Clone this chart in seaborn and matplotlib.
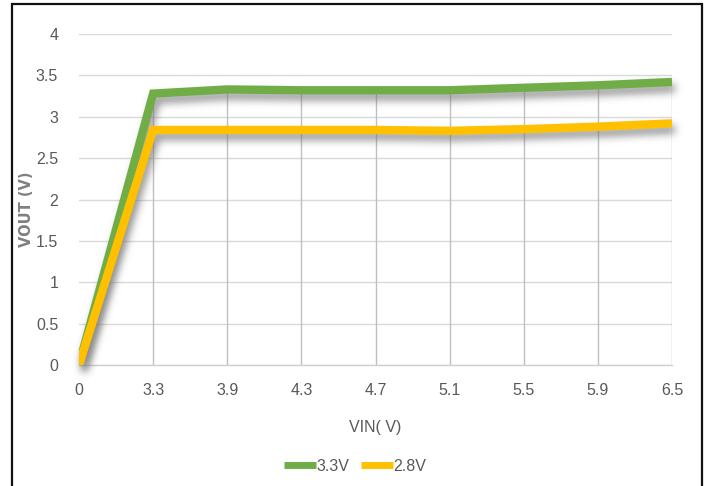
import matplotlib
matplotlib.use("Agg")
import numpy as np
import matplotlib.pyplot as plt
from matplotlib import font_manager
from matplotlib.patches import Rectangle
import pandas as pd
import seaborn as sns

# Input voltage steps (category labels on the x axis)
vin_labels = ["0", "3.3", "3.9", "4.3", "4.7", "5.1", "5.5", "5.9", "6.5"]
# Regulator output voltage for each variant
vout_33 = [0.0, 3.28, 3.33, 3.32, 3.32, 3.32, 3.35, 3.38, 3.42]
vout_28 = [0.0, 2.84, 2.84, 2.84, 2.84, 2.83, 2.85, 2.88, 2.92]
series_names = ["3.3V", "2.8V"]
series_colors = ["#70ad47", "#ffc000"]
y_ticks = [0, 0.5, 1, 1.5, 2, 2.5, 3, 3.5, 4]

sns.set_theme(style="white")
available = {f.name for f in font_manager.fontManager.ttflist}
base_font = "Liberation Sans Narrow" if "Liberation Sans Narrow" in available else "Liberation Sans"
plt.rcParams["font.family"] = [base_font, "DejaVu Sans"]


def blurred_shadow(im, dpi):
    """agg filter: soft grey shadow shifted down-right of the rendered line."""
    pad = 22
    src = np.pad(im, [(pad, pad), (pad, pad), (0, 0)], "constant")
    alpha = src[..., 3]
    r = 10
    sigma = 4.0
    k = np.exp(-0.5 * (np.arange(-r, r + 1) / sigma) ** 2)
    k /= k.sum()
    tmp = np.zeros_like(alpha)
    for i, w in enumerate(k):
        tmp += w * np.roll(alpha, i - r, axis=0)
    out_a = np.zeros_like(alpha)
    for i, w in enumerate(k):
        out_a += w * np.roll(tmp, i - r, axis=1)
    out_a = np.roll(np.roll(out_a, 6, axis=0), 3, axis=1)
    out = np.zeros_like(src)
    out[..., :3] = 0.45
    out[..., 3] = np.clip(out_a * 0.75, 0, 1)
    return out, -pad, -pad


df = pd.DataFrame({
    "VIN": vin_labels * 2,
    "VOUT": vout_33 + vout_28,
    "series": [series_names[0]] * len(vin_labels) + [series_names[1]] * len(vin_labels),
})

fig = plt.figure(figsize=(7.1, 4.86), dpi=100)
ax = fig.add_axes([79 / 710, 1 - 365 / 486, (672 - 79) / 710, (365 - 34) / 486])

sns.lineplot(data=df, x="VIN", y="VOUT", hue="series", palette=series_colors,
             hue_order=series_names, sort=False, linewidth=6, ax=ax,
             legend=True, zorder=4)

# blurred drop shadow copies beneath each series line
for line in list(ax.lines):
    line.set_solid_joinstyle("miter")
    line.set_solid_capstyle("butt")
    sh, = ax.plot(line.get_xdata(), line.get_ydata(), color="black",
                  linewidth=6, zorder=3, solid_joinstyle="miter",
                  solid_capstyle="butt")
    sh.set_agg_filter(blurred_shadow)
    sh.set_rasterized(True)

# drop lines from the highest series down to the axis
xpos = list(range(len(vin_labels)))
ax.vlines(xpos, 0, vout_33, colors="#bfbfbf", linewidth=1.0, zorder=1)

ax.set_xlim(0, len(vin_labels) - 1)
ax.set_ylim(0, 4)
ax.set_yticks(y_ticks)
ax.set_yticklabels([f"{t:g}" for t in y_ticks])
ax.grid(axis="y", color="#d9d9d9", linewidth=1.0, zorder=0)
ax.grid(axis="x", visible=False)
for s in ["top", "right", "left"]:
    ax.spines[s].set_visible(False)
ax.spines["bottom"].set_color("#d0d0d0")
ax.spines["bottom"].set_linewidth(1.0)

ax.tick_params(axis="both", length=0, labelsize=11.5, labelcolor="#595959")
ax.tick_params(axis="x", pad=13)
ax.tick_params(axis="y", pad=15)

ax.set_xlabel("VIN( V)", fontsize=11.5, color="#595959", labelpad=16)
ax.set_ylabel("VOUT (V)", fontsize=10.5, color="#808080", fontweight="bold",
              family=["DejaVu Sans"])
ax.yaxis.set_label_coords((34 - 79) / 593, 0.47)

handles, labels = ax.get_legend_handles_labels()
ax.get_legend().remove()
for h in handles:
    h.set_linewidth(5)
fig.legend(handles, labels, loc="center", bbox_to_anchor=(0.5, 1 - 466 / 486),
           ncol=2, frameon=False, fontsize=11.5, handlelength=2.0,
           handletextpad=0.05, columnspacing=0.7, labelcolor="#595959")

# outer frame around the chart
fig.patches.append(Rectangle((12 / 710, -0.05), (702 - 12) / 710, 1.05 - 4 / 486,
                             transform=fig.transFigure, fill=False,
                             edgecolor="#111111", linewidth=1.6))

fig.savefig("out.png", dpi=100)
